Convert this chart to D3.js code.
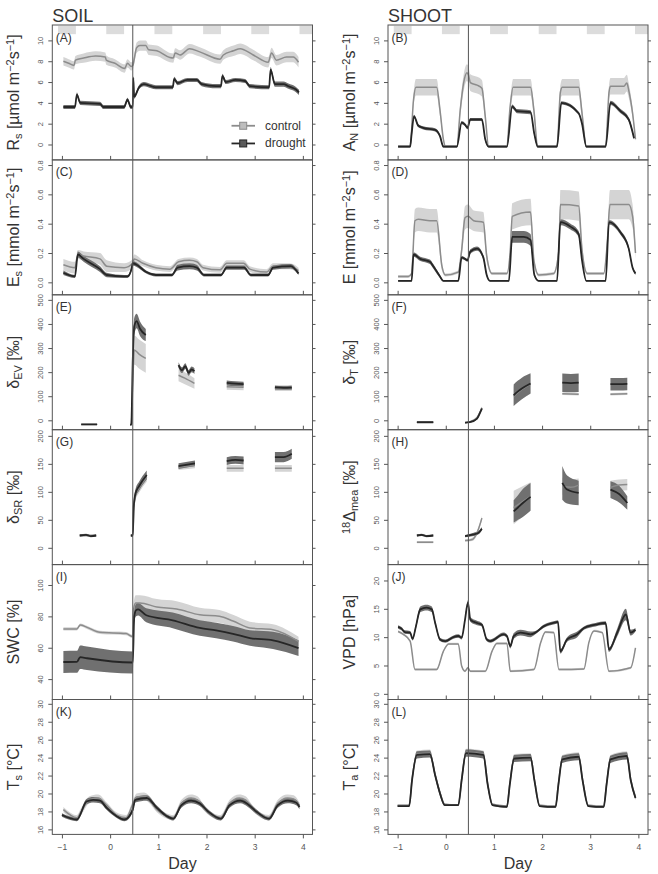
<!DOCTYPE html>
<html lang="en">
<head>
<meta charset="UTF-8">
<title>Soil and shoot time series</title>
<script src="https://cdn.jsdelivr.net/npm/d3@7"></script>
<style>
  body { margin: 0; background: #fff; }
  svg { display: block; font-family: "Liberation Sans", Arial, sans-serif; }
  .frame { fill: none; stroke: #555; stroke-width: 1; }
  .axis .domain { display: none; }
  .axis line { stroke: #555; }
  .axis text { fill: #555; font-size: 7.5px; font-family: "Liberation Sans", Arial, sans-serif; }
  .xlab text { font-size: 8.5px; }
</style>
</head>
<body>
<svg id="chart" width="658" height="874"></svg>
<script>
// ---- data: [day, mean, half band width], null = gap ----
const days = [-1, 0, 1, 2, 3, 4];
const nightStart = [-1.08, -0.08, 0.92, 1.93, 2.93, 3.93];
const nightEnd = [-0.71, 0.29, 1.29, 2.3, 3.3, 4.3];
const treatmentDay = 0.47;

const ticksFlux = [0, 2, 4, 6, 8, 10];
const ticksWater = [0, 0.2, 0.4, 0.6, 0.8];
const ticksDelta = [0, 100, 200, 300, 400, 500];
const ticksDelta2 = [0, 50, 100, 150, 200];
const ticksSwc = [40, 60, 80, 100];
const ticksVpd = [0, 5, 10, 15, 20];
const ticksTemp = [16, 18, 20, 22, 24, 26, 28, 30];

const rsControl = [[-0.97,8.0,0.4],[-0.86,7.8,0.4],[-0.75,7.6,0.4],[-0.72,8.1,0.4],[-0.55,8.3,0.45],[-0.3,8.5,0.45],[-0.1,8.4,0.45],[-0.08,8.1,0.45],[0.1,7.8,0.4],[0.3,7.3,0.4],[0.36,7.8,0.4],[0.44,7.5,0.4],[0.47,7.6,0.4],[0.55,9.3,0.5],[0.62,9.5,0.5],[0.74,9.5,0.5],[0.8,9.1,0.5],[0.97,9.0,0.5],[1.24,8.35,0.45],[1.31,8.3,0.45],[1.35,8.8,0.45],[1.45,8.6,0.45],[1.65,9.2,0.45],[1.86,8.9,0.45],[2.28,8.2,0.45],[2.35,8.6,0.45],[2.56,9.0,0.5],[2.7,9.2,0.5],[2.97,8.6,0.5],[3.28,7.9,0.5],[3.35,8.8,0.5],[3.45,8.1,0.5],[3.66,8.4,0.5],[3.8,8.4,0.5],[3.91,7.9,0.5]];
const rsDrought = [[-0.97,3.6,0.2],[-0.73,3.6,0.2],[-0.69,4.8,0.2],[-0.62,4.0,0.2],[-0.21,3.9,0.2],[-0.14,3.6,0.2],[0.29,3.6,0.2],[0.36,4.3,0.2],[0.43,3.6,0.2],[0.47,3.6,0.2],[0.48,6.4,0.2],[0.5,4.6,0.2],[0.6,5.5,0.2],[0.7,5.8,0.2],[0.85,5.6,0.2],[0.95,5.5,0.2],[1.3,5.5,0.2],[1.33,6.3,0.2],[1.4,5.9,0.2],[1.6,6.2,0.2],[1.8,6.2,0.2],[1.9,5.8,0.2],[2.2,5.6,0.2],[2.3,5.6,0.2],[2.33,6.6,0.2],[2.4,6.0,0.2],[2.6,6.2,0.2],[2.8,6.1,0.2],[2.9,5.6,0.2],[3.3,5.5,0.2],[3.33,7.2,0.25],[3.42,5.8,0.25],[3.6,5.8,0.25],[3.7,5.6,0.25],[3.85,5.3,0.25],[3.92,5.0,0.25]];

const anControl = [[-0.99,-0.2,0.1],[-0.74,-0.2,0.1],[-0.67,4.3,0.6],[-0.62,5.5,0.8],[-0.19,5.5,0.8],[-0.12,3.3,0.6],[-0.05,0.5,0.2],[-0.01,-0.2,0.1],[0.23,-0.2,0.1],[0.3,3.3,0.6],[0.37,5.9,0.8],[0.44,6.9,0.8],[0.47,6.7,0.8],[0.51,5.95,0.8],[0.65,5.7,0.8],[0.75,5.4,0.8],[0.82,2.7,0.5],[0.89,-0.2,0.1],[1.27,-0.2,0.1],[1.33,3.3,0.6],[1.4,5.5,0.8],[1.76,5.5,0.8],[1.83,3.3,0.6],[1.91,-0.2,0.1],[2.31,-0.2,0.1],[2.38,5.0,0.7],[2.42,5.5,0.8],[2.76,5.5,0.8],[2.83,3.0,0.6],[2.92,-0.2,0.1],[3.32,-0.2,0.1],[3.39,5.0,0.7],[3.42,5.6,0.8],[3.7,5.6,0.8],[3.76,5.9,0.8],[3.8,5.2,0.7],[3.88,3.0,0.5],[3.94,0.5,0.2]];
const anDrought = [[-0.99,-0.2,0.1],[-0.74,-0.2,0.1],[-0.71,1.0,0.15],[-0.66,2.7,0.15],[-0.57,1.8,0.15],[-0.47,1.6,0.15],[-0.22,1.4,0.15],[-0.12,0.8,0.15],[-0.05,-0.2,0.1],[0.23,-0.2,0.1],[0.33,2.1,0.15],[0.4,1.9,0.15],[0.45,1.6,0.15],[0.51,2.4,0.15],[0.75,2.4,0.15],[0.82,0.5,0.15],[0.89,-0.2,0.1],[1.27,-0.2,0.1],[1.38,3.65,0.2],[1.48,3.2,0.2],[1.76,3.1,0.2],[1.84,1.0,0.15],[1.91,-0.2,0.1],[2.31,-0.2,0.1],[2.4,4.0,0.15],[2.76,3.0,0.15],[2.83,2.0,0.15],[2.92,-0.2,0.1],[3.32,-0.2,0.1],[3.42,4.0,0.2],[3.63,3.2,0.2],[3.8,2.4,0.2],[3.91,0.6,0.15]];

const esControl = [[-0.97,0.12,0.04],[-0.73,0.10,0.04],[-0.67,0.19,0.03],[-0.55,0.18,0.03],[-0.21,0.16,0.04],[-0.07,0.11,0.04],[0.29,0.10,0.03],[0.47,0.13,0.03],[0.5,0.16,0.03],[0.68,0.13,0.02],[0.95,0.10,0.02],[1.24,0.09,0.02],[1.42,0.14,0.02],[1.65,0.15,0.02],[1.8,0.14,0.02],[1.93,0.10,0.02],[2.28,0.085,0.02],[2.42,0.13,0.02],[2.77,0.13,0.02],[2.9,0.09,0.02],[3.25,0.07,0.02],[3.38,0.11,0.02],[3.73,0.11,0.02],[3.91,0.08,0.02]];
const esDrought = [[-0.97,0.065,0.015],[-0.73,0.04,0.01],[-0.67,0.19,0.02],[-0.55,0.16,0.02],[-0.21,0.09,0.02],[-0.07,0.05,0.015],[0.29,0.04,0.01],[0.36,0.04,0.01],[0.45,0.10,0.015],[0.47,0.13,0.015],[0.55,0.12,0.015],[0.75,0.07,0.01],[0.95,0.05,0.01],[1.28,0.05,0.01],[1.4,0.10,0.02],[1.65,0.11,0.02],[1.8,0.10,0.02],[1.95,0.05,0.01],[2.3,0.05,0.01],[2.42,0.10,0.015],[2.78,0.10,0.015],[2.92,0.05,0.01],[3.28,0.05,0.01],[3.38,0.10,0.015],[3.75,0.11,0.015],[3.91,0.06,0.01]];

const eControl = [[-0.99,0.04,0.01],[-0.78,0.04,0.01],[-0.71,0.06,0.01],[-0.64,0.42,0.08],[-0.57,0.43,0.08],[-0.33,0.42,0.08],[-0.19,0.42,0.08],[-0.08,0.11,0.03],[-0.01,0.05,0.01],[0.26,0.07,0.01],[0.33,0.22,0.05],[0.4,0.44,0.08],[0.46,0.45,0.08],[0.58,0.42,0.07],[0.78,0.41,0.07],[0.85,0.18,0.04],[0.96,0.06,0.01],[1.27,0.06,0.01],[1.34,0.22,0.05],[1.38,0.45,0.09],[1.76,0.48,0.09],[1.83,0.15,0.03],[1.93,0.05,0.01],[2.24,0.06,0.01],[2.35,0.22,0.05],[2.38,0.53,0.1],[2.76,0.52,0.1],[2.83,0.22,0.05],[2.94,0.06,0.01],[3.28,0.06,0.01],[3.35,0.25,0.05],[3.41,0.53,0.1],[3.8,0.53,0.1],[3.88,0.45,0.08],[3.94,0.2,0.04]];
const eDrought = [[-0.99,0.01,0.005],[-0.71,0.01,0.005],[-0.67,0.19,0.015],[-0.53,0.16,0.015],[-0.33,0.14,0.015],[-0.26,0.11,0.015],[-0.12,0.04,0.01],[-0.05,0.01,0.005],[0.26,0.01,0.005],[0.33,0.17,0.01],[0.4,0.16,0.01],[0.45,0.15,0.01],[0.51,0.21,0.015],[0.65,0.23,0.015],[0.78,0.17,0.015],[0.85,0.05,0.01],[0.92,0.01,0.005],[1.31,0.01,0.005],[1.38,0.31,0.04],[1.62,0.31,0.04],[1.76,0.29,0.04],[1.84,0.05,0.01],[1.93,0.01,0.005],[2.31,0.01,0.005],[2.38,0.41,0.02],[2.59,0.38,0.02],[2.76,0.33,0.02],[2.83,0.15,0.01],[2.92,0.01,0.005],[3.32,0.01,0.005],[3.39,0.41,0.015],[3.63,0.34,0.015],[3.8,0.23,0.015],[3.88,0.1,0.01],[3.94,0.06,0.01]];

const evControl = [[-0.6,-17,3],[-0.27,-17,3],null,[0.42,-20,3],[0.44,-15,5],[0.47,150,40],[0.5,292,60],[0.6,275,60],[0.74,257,60],null,[1.42,187,25],[1.55,175,25],[1.75,153,22],null,[2.42,139,12],[2.77,137,12],null,[3.42,130,8],[3.77,130,8]];
const evDrought = [[-0.6,-17,2],[-0.27,-17,2],null,[0.42,-20,2],[0.44,-15,3],[0.47,250,30],[0.5,390,35],[0.55,412,30],[0.62,380,30],[0.74,354,25],null,[1.42,229,12],[1.49,208,12],[1.56,225,12],[1.63,197,12],[1.69,211,12],[1.75,204,12],null,[2.42,155,10],[2.6,152,10],[2.77,150,10],null,[3.42,137,8],[3.6,135,8],[3.77,136,8]];

const tControl = [[-0.6,-8,2],[-0.26,-8,2],null,[0.4,-10,2],[0.5,-6,3],[0.65,12,4],[0.72,38,5],[0.75,52,5],null,[1.41,100,40],[1.58,128,40],[1.76,150,40],null,[2.42,110,5],[2.76,108,5],null,[3.42,108,5],[3.77,110,5]];
const tDrought = [[-0.6,-8,2],[-0.26,-8,2],null,[0.4,-10,2],[0.5,-8,2],[0.65,7,3],[0.72,35,4],[0.75,49,4],null,[1.41,104,45],[1.5,120,45],[1.58,132,45],[1.76,153,42],null,[2.42,156,38],[2.6,154,38],[2.76,156,38],null,[3.42,150,26],[3.6,150,26],[3.77,151,26]];

const srControl = [[-0.63,22,2],[-0.29,22,2],null,[0.43,22,2],[0.47,22,3],[0.49,68,8],[0.53,94,8],[0.6,106,8],[0.76,126,8],null,[1.42,144,5],[1.76,147,5],null,[2.42,142,6],[2.77,142,6],null,[3.42,142,6],[3.77,142,6]];
const srDrought = [[-0.63,22,2],[-0.5,23,2],[-0.4,21,2],[-0.29,22,2],null,[0.43,22,2],[0.47,22,3],[0.49,74,8],[0.53,98,8],[0.6,110,8],[0.76,130,8],null,[1.42,146,5],[1.76,151,5],null,[2.42,155,7],[2.6,157,7],[2.77,156,7],null,[3.42,162,9],[3.6,162,9],[3.77,168,9]];

const meaControl = [[-0.6,10,2],[-0.26,10,2],null,[0.4,13,2],[0.55,15,3],[0.65,27,4],[0.75,53,4],null,[1.41,72,30],[1.76,92,25],null,[2.42,110,15],[2.6,108,15],[2.76,112,12],null,[3.42,108,12],[3.6,112,10],[3.77,113,10]];
const meaDrought = [[-0.6,22,2],[-0.5,23,2],[-0.4,21,2],[-0.26,22,2],null,[0.4,21,2],[0.58,24,3],[0.68,27,3],[0.75,34,3],null,[1.41,65,20],[1.5,72,22],[1.6,80,25],[1.76,91,25],null,[2.42,116,30],[2.52,104,25],[2.76,98,22],null,[3.42,104,15],[3.6,96,15],[3.77,80,12]];

const swcControl = [[-0.97,72,1],[-0.69,72,1],[-0.62,74.5,1],[-0.48,73,1],[-0.21,69.8,1],[0.33,69,1],[0.47,67.2,1],[0.49,85,4],[0.53,88.5,5],[0.62,88.5,5],[0.97,86,5],[1.38,84.7,5],[1.86,81,4.5],[2.27,80,4],[2.55,77,4],[2.9,72.6,4],[3.38,71.5,3.5],[3.91,64,3]];
const swcDrought = [[-0.97,50.9,7],[-0.69,51,7],[-0.62,54,7.5],[-0.48,53.3,7.5],[0.47,50.6,7],[0.5,80,4],[0.54,84,4],[0.58,84.5,4],[0.75,80.7,4.5],[1.3,77.5,5],[1.86,72.6,5],[2.2,71,5],[2.55,68.9,5],[2.9,66.2,5],[3.38,64.7,5.5],[3.91,59.8,5]];

const vpdControl = [[-0.99,11.0,0.2],[-0.88,10.5,0.2],[-0.74,9.3,0.2],[-0.64,4.3,0.2],[-0.19,4.3,0.2],[-0.05,7.5,0.2],[0.06,8.8,0.2],[0.26,8.8,0.2],[0.33,4.9,0.2],[0.4,4.0,0.2],[0.46,4.6,0.2],[0.51,4.0,0.2],[0.82,4.0,0.2],[0.96,7.5,0.2],[1.06,8.9,0.2],[1.27,8.9,0.2],[1.34,4.0,0.2],[1.83,4.3,0.2],[1.97,9.0,0.2],[2.07,10.9,0.2],[2.24,10.8,0.2],[2.35,4.3,0.2],[2.87,4.4,0.2],[2.97,9.0,0.2],[3.08,11.1,0.2],[3.25,10.8,0.2],[3.39,4.0,0.2],[3.84,4.6,0.2],[3.94,8.1,0.2]];
const vpdDrought = [[-0.99,11.8,0.3],[-0.92,11.5,0.3],[-0.85,10.9,0.3],[-0.74,10.8,0.3],[-0.69,9.7,0.3],[-0.62,11.9,0.4],[-0.53,14.9,0.5],[-0.4,15.2,0.5],[-0.29,14.9,0.5],[-0.22,12.5,0.4],[-0.12,9.6,0.3],[-0.01,9.3,0.3],[0.16,10.0,0.3],[0.26,10.2,0.3],[0.33,9.9,0.3],[0.4,13.1,0.3],[0.46,16.1,0.4],[0.51,13.1,0.4],[0.65,12.5,0.4],[0.75,12.2,0.3],[0.85,9.6,0.3],[0.92,9.3,0.3],[1.2,10.5,0.3],[1.27,10.2,0.3],[1.34,8.4,0.4],[1.41,10.2,0.5],[1.55,10.8,0.5],[1.76,10.5,0.5],[1.86,10.8,0.3],[2.03,11.9,0.3],[2.28,12.6,0.3],[2.33,12.7,0.3],[2.38,7.5,0.4],[2.52,9.6,0.4],[2.73,10.5,0.5],[2.87,11.6,0.3],[3.11,12.2,0.3],[3.32,12.5,0.3],[3.39,7.8,0.4],[3.56,10.8,0.7],[3.74,14.0,1.0],[3.84,10.8,0.5],[3.94,11.3,0.3]];

const tsControl = [[-0.97,18.2,0.3],[-0.69,17.3,0.3],[-0.6,18.0,0.4],[-0.43,19.3,0.4],[-0.25,19.5,0.4],[-0.07,18.7,0.3],[0.13,17.6,0.3],[0.33,17.3,0.3],[0.47,18.8,0.4],[0.55,19.6,0.4],[0.7,19.7,0.4],[0.8,19.4,0.4],[0.97,18.2,0.3],[1.17,17.5,0.3],[1.31,17.3,0.3],[1.48,18.9,0.4],[1.68,19.5,0.4],[1.81,19.3,0.4],[1.98,18.2,0.3],[2.29,17.3,0.3],[2.48,18.9,0.4],[2.68,19.5,0.4],[2.81,19.3,0.4],[2.98,18.2,0.3],[3.29,17.3,0.3],[3.48,18.9,0.4],[3.68,19.5,0.4],[3.81,19.4,0.4],[3.93,18.7,0.3]];
const tsDrought = [[-1.0,17.6,0.2],[-0.69,17.1,0.2],[-0.49,19.1,0.3],[-0.35,19.3,0.3],[-0.21,19.2,0.3],[-0.07,18.4,0.25],[0.13,17.5,0.2],[0.3,17.1,0.2],[0.47,18.2,0.3],[0.52,19.3,0.3],[0.76,19.5,0.3],[0.97,18.4,0.25],[1.17,17.5,0.2],[1.31,17.2,0.2],[1.48,18.7,0.3],[1.68,19.2,0.3],[1.86,18.9,0.3],[2.03,18.0,0.25],[2.3,17.2,0.2],[2.48,18.7,0.3],[2.7,19.2,0.3],[2.86,18.8,0.3],[3.03,18.0,0.25],[3.3,17.2,0.2],[3.48,18.7,0.3],[3.69,19.2,0.3],[3.86,19.0,0.3],[3.93,18.5,0.25]];

const taControl = [[-1.0,18.7,0.1],[-0.76,18.7,0.1],[-0.7,21.6,0.3],[-0.6,24.4,0.4],[-0.33,24.5,0.4],[-0.22,22.1,0.3],[-0.12,20.1,0.3],[-0.02,18.8,0.1],[0.26,18.7,0.1],[0.33,21.6,0.3],[0.42,24.6,0.4],[0.78,24.4,0.4],[0.87,21.1,0.3],[0.97,18.8,0.1],[1.27,18.6,0.1],[1.33,21.1,0.3],[1.42,24.0,0.4],[1.76,24.1,0.4],[1.84,21.6,0.3],[1.95,18.7,0.1],[2.28,18.6,0.1],[2.34,21.1,0.3],[2.42,23.9,0.4],[2.76,24.2,0.4],[2.84,21.6,0.3],[2.96,18.7,0.1],[3.28,18.6,0.1],[3.34,21.1,0.3],[3.42,23.9,0.4],[3.76,24.3,0.4],[3.84,21.6,0.3],[3.94,19.6,0.2]];
const taDrought = [[-1.0,18.6,0.1],[-0.76,18.6,0.1],[-0.7,21.5,0.3],[-0.6,24.3,0.4],[-0.33,24.4,0.4],[-0.22,22.0,0.3],[-0.12,20.0,0.3],[-0.02,18.7,0.1],[0.26,18.7,0.1],[0.33,21.5,0.3],[0.42,24.5,0.4],[0.78,24.3,0.4],[0.87,21.0,0.3],[0.97,18.7,0.1],[1.27,18.5,0.1],[1.33,21.0,0.3],[1.42,23.9,0.4],[1.76,24.0,0.4],[1.84,21.5,0.3],[1.95,18.6,0.1],[2.28,18.5,0.1],[2.34,21.0,0.3],[2.42,23.8,0.4],[2.76,24.1,0.4],[2.84,21.5,0.3],[2.96,18.6,0.1],[3.28,18.5,0.1],[3.34,21.0,0.3],[3.42,23.8,0.4],[3.76,24.2,0.4],[3.84,21.5,0.3],[3.94,19.5,0.2]];

// ---- layout ----
const svg = d3.select("#chart");
const top0 = 25, panelH = 134.9;
const xDomain = [-1.2, 4.2];
const columns = [
  { x0: 52.3, x1: 312.5, name: "SOIL" },
  { x0: 388, x1: 648, name: "SHOOT" }
];

const fluxUnit = (v, u) => [[v[0]], [v[1], "sub"], [" [" + u + " m"], ["\u22122", "sup"], ["s"], ["\u22121", "sup"], ["]"]];
const panels = [
  { col: 0, row: 0, tag: "(A)", domain: [-1.48, 11.48], ticks: ticksFlux, fmt: d3.format("d"), title: fluxUnit(["R", "s"], "\u00b5mol"), control: rsControl, drought: rsDrought, night: true, legend: true },
  { col: 1, row: 0, tag: "(B)", domain: [-1.48, 11.48], ticks: ticksFlux, fmt: d3.format("d"), title: fluxUnit(["A", "N"], "\u00b5mol"), control: anControl, drought: anDrought, night: true },
  { col: 0, row: 1, tag: "(C)", domain: [-0.085, 0.835], ticks: ticksWater, fmt: d3.format(".1f"), title: fluxUnit(["E", "s"], "mmol"), control: esControl, drought: esDrought },
  { col: 1, row: 1, tag: "(D)", domain: [-0.085, 0.835], ticks: ticksWater, fmt: d3.format(".1f"), title: [["E [mmol m"], ["\u22122", "sup"], ["s"], ["\u22121", "sup"], ["]"]], control: eControl, drought: eDrought },
  { col: 0, row: 2, tag: "(E)", domain: [-39, 521], ticks: ticksDelta, fmt: d3.format("d"), title: [["\u03b4"], ["EV", "sub"], [" [\u2030]"]], control: evControl, drought: evDrought },
  { col: 1, row: 2, tag: "(F)", domain: [-39, 521], ticks: ticksDelta, fmt: d3.format("d"), title: [["\u03b4"], ["T", "sub"], [" [\u2030]"]], control: tControl, drought: tDrought },
  { col: 0, row: 3, tag: "(G)", domain: [-30, 211], ticks: ticksDelta2, fmt: d3.format("d"), title: [["\u03b4"], ["SR", "sub"], [" [\u2030]"]], control: srControl, drought: srDrought },
  { col: 1, row: 3, tag: "(H)", domain: [-30, 211], ticks: ticksDelta2, fmt: d3.format("d"), title: [["18", "sup"], ["\u0394"], ["mea", "sub"], [" [\u2030]"]], control: meaControl, drought: meaDrought },
  { col: 0, row: 4, tag: "(I)", domain: [27, 113], ticks: ticksSwc, fmt: d3.format("d"), title: [["SWC [%]"]], control: swcControl, drought: swcDrought },
  { col: 1, row: 4, tag: "(J)", domain: [-1.0, 22.8], ticks: ticksVpd, fmt: d3.format("d"), title: [["VPD [hPa]"]], control: vpdControl, drought: vpdDrought },
  { col: 0, row: 5, tag: "(K)", domain: [15.44, 30.48], ticks: ticksTemp, fmt: d3.format("d"), title: [["T"], ["s", "sub"], [" [\u00b0C]"]], control: tsControl, drought: tsDrought },
  { col: 1, row: 5, tag: "(L)", domain: [15.44, 30.48], ticks: ticksTemp, fmt: d3.format("d"), title: [["T"], ["a", "sub"], [" [\u00b0C]"]], control: taControl, drought: taDrought }
];

const lastRow = 5;

panels.forEach((p, i) => {
  const c = columns[p.col];
  const yTop = top0 + p.row * panelH, yBot = yTop + panelH;
  const x = d3.scaleLinear().domain(xDomain).range([c.x0, c.x1]);
  const y = d3.scaleLinear().domain(p.domain).range([yBot, yTop]);
  const g = svg.append("g");

  svg.append("clipPath").attr("id", "clip" + i)
    .append("rect").attr("x", c.x0).attr("y", yTop).attr("width", c.x1 - c.x0).attr("height", panelH);
  const plot = g.append("g").attr("clip-path", `url(#clip${i})`);

  if (p.night) {
    plot.selectAll(".night").data(nightStart).join("rect")
      .attr("x", (d) => x(d))
      .attr("width", (d, j) => x(nightEnd[j]) - x(d))
      .attr("y", y(11.4))
      .attr("height", y(10.6) - y(11.4))
      .attr("fill", "#dcdcdc");
  }

  const area = d3.area().defined((d) => d).curve(d3.curveMonotoneX)
    .x((d) => x(d[0])).y0((d) => y(d[1] - d[2])).y1((d) => y(d[1] + d[2]));
  const line = d3.line().defined((d) => d).curve(d3.curveMonotoneX)
    .x((d) => x(d[0])).y((d) => y(d[1]));

  plot.append("path").datum(p.control).attr("d", area).attr("fill", "#d4d4d4");
  plot.append("path").datum(p.drought).attr("d", area).attr("fill", "#707070");
  plot.append("path").datum(p.control).attr("d", line)
    .attr("fill", "none").attr("stroke", "#8c8c8c").attr("stroke-width", 1.5);
  plot.append("path").datum(p.drought).attr("d", line)
    .attr("fill", "none").attr("stroke", "#262626").attr("stroke-width", 1.8);

  // treatment line
  g.append("line")
    .attr("x1", x(treatmentDay)).attr("x2", x(treatmentDay))
    .attr("y1", yTop).attr("y2", yBot)
    .attr("stroke", "#555").attr("stroke-width", 1);

  g.append("rect").attr("class", "frame")
    .attr("x", c.x0).attr("y", yTop).attr("width", c.x1 - c.x0).attr("height", panelH);

  // y axis, left with rotated labels
  const yAxis = g.append("g").attr("class", "axis")
    .attr("transform", `translate(${c.x0},0)`)
    .call(d3.axisLeft(y).tickValues(p.ticks).tickSize(4).tickFormat(p.fmt));
  yAxis.selectAll("text")
    .attr("transform", "rotate(-90)")
    .attr("x", 0).attr("y", -9.5).attr("dy", 0)
    .attr("text-anchor", "middle");

  g.append("g").attr("class", "axis")
    .attr("transform", `translate(${c.x1},0)`)
    .call(d3.axisRight(y).tickValues(p.ticks).tickSize(3).tickFormat(""));

  // x axis
  if (p.row === lastRow) {
    g.append("g").attr("class", "axis xlab")
      .attr("transform", `translate(0,${yBot})`)
      .call(d3.axisBottom(x).tickValues(days).tickSize(4).tickPadding(6).tickFormat(d3.format("d")));
    g.append("text")
      .attr("x", (c.x0 + c.x1) / 2).attr("y", 869)
      .attr("text-anchor", "middle")
      .attr("font-size", 16).attr("fill", "#333")
      .text("Day");
  } else {
    g.append("g").attr("class", "axis")
      .attr("transform", `translate(0,${yBot})`)
      .call(d3.axisBottom(x).tickValues(days).tickSize(-4).tickFormat(""));
  }

  // panel tag
  g.append("text")
    .attr("x", c.x0 + 3.5).attr("y", yTop + 16.5)
    .attr("font-size", 12).attr("fill", "#333")
    .text(p.tag);

  // axis title
  const t = g.append("text")
    .attr("transform", `translate(${c.x0 - 33},${(yTop + yBot) / 2}) rotate(-90)`)
    .attr("text-anchor", "middle")
    .attr("font-size", 16).attr("fill", "#333");
  p.title.forEach(([s, kind]) => {
    const ts = t.append("tspan").text(s);
    if (kind) ts.attr("font-size", 11).attr("baseline-shift", kind === "sub" ? "-25%" : "45%");
  });

  if (p.legend) {
    const items = [
      { name: "control", line: "#8c8c8c", fill: "#bdbdbd", edge: "#8c8c8c", y: y(1.8) },
      { name: "drought", line: "#262626", fill: "#5a5a5a", edge: "#262626", y: y(0.1) }
    ];
    const lg = g.append("g");
    items.forEach((it) => {
      lg.append("line")
        .attr("x1", c.x1 - 81).attr("x2", c.x1 - 57.5)
        .attr("y1", it.y).attr("y2", it.y)
        .attr("stroke", it.line).attr("stroke-width", 1.8);
      lg.append("rect")
        .attr("x", c.x1 - 72.8).attr("y", it.y - 3.5)
        .attr("width", 7).attr("height", 7)
        .attr("fill", it.fill).attr("stroke", it.edge).attr("stroke-width", 1);
      lg.append("text")
        .attr("x", c.x1 - 47.5).attr("y", it.y + 4)
        .attr("font-size", 12).attr("fill", "#333")
        .text(it.name);
    });
  }
});

// column titles
columns.forEach((c) => {
  svg.append("text")
    .attr("x", c.x0).attr("y", 21.5)
    .attr("font-size", 18).attr("fill", "#333")
    .text(c.name);
});
</script>
</body>
</html>
